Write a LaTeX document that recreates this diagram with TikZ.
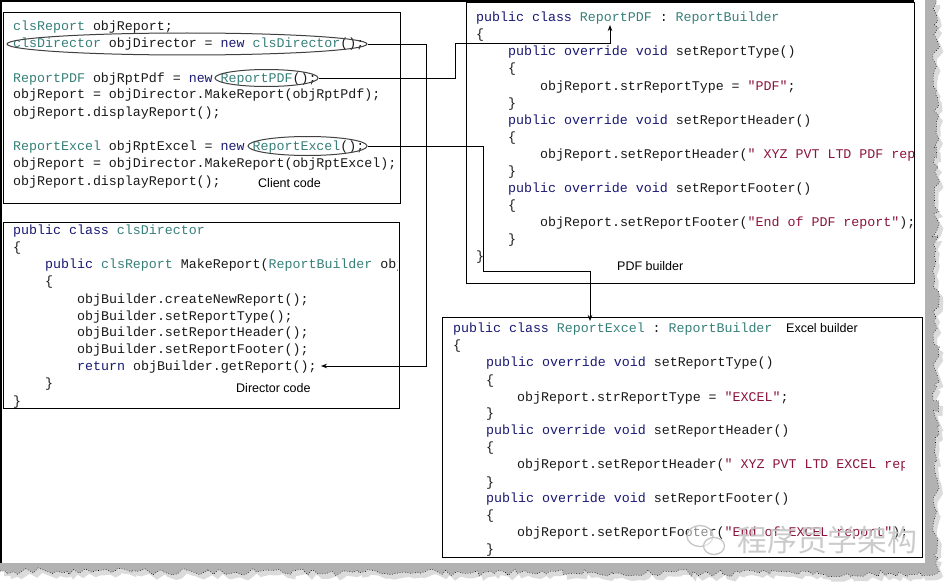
\documentclass[tikz,border=0pt]{standalone}
\usepackage{fontspec}
\setmainfont{Liberation Sans}
\setmonofont{Liberation Mono}
\newfontfamily\cjk{Noto Sans CJK SC}
\usetikzlibrary{shapes.geometric,arrows.meta,decorations.pathmorphing}
\definecolor{kwc}{RGB}{25,25,115}
\definecolor{tyc}{RGB}{55,128,122}
\definecolor{stc}{RGB}{140,20,60}
\definecolor{txc}{RGB}{25,25,25}
\newcommand\ckw[1]{\textcolor{kwc}{#1}}
\newcommand\cty[1]{\textcolor{tyc}{#1}}
\newcommand\cstr[1]{\textcolor{stc}{#1}}
\newcommand\cl[4]{\node[code] (#1) at (#2,#3+4) {#4};}
\tikzset{
  codebox/.style={draw=black, line width=1.1pt},
  code/.style={anchor=base west, inner sep=0pt, text=txc, font=\ttfamily\fontsize{13.3}{15}\selectfont},
  lbl/.style={anchor=base west, inner sep=0pt, text=black, font=\fontsize{12.5}{14}\selectfont},
  conn/.style={draw=black, line width=0.9pt},
  arr/.style={conn, -{Stealth[length=6pt,width=4.5pt]}},
  oval/.style={ellipse, draw=black!75, line width=1pt, inner sep=0pt},
  torn/.style={decoration={random steps,segment length=5pt,amplitude=3.5pt}}
}
\begin{document}
\begin{tikzpicture}[x=1pt,y=-1pt]
\useasboundingbox (0,0) rectangle (950,586);
\fill[white] (0,0) rectangle (950,586);

% torn edge shadow and band
\pgfmathsetseed{5}
\fill[gray!28, shift={(4,5)}] (925,0) -- (925,563) -- (0,563) -- (0,571) decorate[torn]{ -- (936,574) -- (936,0)} -- cycle;
\pgfmathsetseed{5}
\fill[gray!60] (925,0) -- (925,563) -- (0,563) -- (0,571) decorate[torn]{ -- (936,574) -- (936,0)} -- cycle;
\pgfmathsetseed{5}
\draw[black, line width=0.6pt, dotted] (0,571) decorate[torn]{ -- (936,574) -- (936,0)};

% page frame
\draw[black, line width=1.2pt] (1,563) -- (1,1) -- (914,1);

% boxes
\node[codebox, rectangle, minimum width=397, minimum height=191, anchor=north west, inner sep=0pt] (client) at (3,12) {};
\node[codebox, rectangle, minimum width=396, minimum height=186, anchor=north west, inner sep=0pt] (director) at (3,222) {};
\node[codebox, rectangle, minimum width=448, minimum height=281, anchor=north west, inner sep=0pt] (pdf) at (466,2) {};
\node[codebox, rectangle, minimum width=480, minimum height=240, anchor=north west, inner sep=0pt] (excel) at (442,317) {};

% client code
\begin{scope}
\clip (3,12) rectangle (400,203);
\cl{a1}{13}{27}{\cty{clsReport} objReport;}
\cl{a2}{13}{44}{\cty{clsDirector} objDirector = \ckw{new} \cty{clsDirector}();}
\cl{a3}{13}{78}{\cty{ReportPDF} objRptPdf = \ckw{new} \cty{ReportPDF}();}
\cl{a4}{13}{95}{objReport = objDirector.MakeReport(objRptPdf);}
\cl{a5}{13}{112}{objReport.displayReport();}
\cl{a6}{13}{146}{\cty{ReportExcel} objRptExcel = \ckw{new} \cty{ReportExcel}();}
\cl{a7}{13}{163}{objReport = objDirector.MakeReport(objRptExcel);}
\cl{a8}{13}{181}{objReport.displayReport();}
\end{scope}
\node[lbl] (clientlbl) at (258,187.5) {Client code};

% director code
\begin{scope}
\clip (3,222) rectangle (397,408);
\cl{d1}{13}{230}{\ckw{public class} \cty{clsDirector}}
\cl{d2}{13}{247}{\{}
\cl{d3}{45}{264}{\ckw{public} \cty{clsReport} MakeReport(\cty{ReportBuilder} objBuilder)}
\cl{d4}{45}{281}{\{}
\cl{d5}{77}{299}{objBuilder.createNewReport();}
\cl{d6}{77}{316}{objBuilder.setReportType();}
\cl{d7}{77}{332}{objBuilder.setReportHeader();}
\cl{d8}{77}{349}{objBuilder.setReportFooter();}
\cl{d9}{77}{366}{\ckw{return} objBuilder.getReport();}
\cl{d10}{45}{383}{\}}
\cl{d11}{13}{401}{\}}
\end{scope}
\node[lbl] (directorlbl) at (236,392.5) {Director code};

% PDF builder
\begin{scope}
\clip (466,2) rectangle (914,283);
\cl{p1}{476}{18}{\ckw{public class} \cty{ReportPDF} : \cty{ReportBuilder}}
\cl{p2}{476}{35}{\{}
\cl{p3}{508}{52}{\ckw{public override void} setReportType()}
\cl{p4}{508}{69}{\{}
\cl{p5}{540}{86}{objReport.strReportType = \cstr{"PDF"};}
\cl{p6}{508}{103}{\}}
\cl{p7}{508}{120}{\ckw{public override void} setReportHeader()}
\cl{p8}{508}{137}{\{}
\cl{p9}{540}{154}{objReport.setReportHeader(\cstr{" XYZ PVT LTD PDF report"});}
\cl{p10}{508}{171}{\}}
\cl{p11}{508}{188}{\ckw{public override void} setReportFooter()}
\cl{p12}{508}{205}{\{}
\cl{p13}{540}{222}{objReport.setReportFooter(\cstr{"End of PDF report"});}
\cl{p14}{508}{239}{\}}
\cl{p15}{476}{256}{\}}
\end{scope}
\node[lbl] (pdflbl) at (617,270.5) {PDF builder};

% Excel builder
\begin{scope}
\clip (442,317) rectangle (904,557);
\cl{x1}{453}{328}{\ckw{public class} \cty{ReportExcel} : \cty{ReportBuilder}}
\cl{x2}{453}{345}{\{}
\cl{x3}{486}{362}{\ckw{public override void} setReportType()}
\cl{x4}{486}{380}{\{}
\cl{x5}{517}{397}{objReport.strReportType = \cstr{"EXCEL"};}
\cl{x6}{486}{413}{\}}
\cl{x7}{486}{430}{\ckw{public override void} setReportHeader()}
\cl{x8}{486}{447}{\{}
\cl{x9}{517}{464}{objReport.setReportHeader(\cstr{" XYZ PVT LTD EXCEL report"});}
\cl{x10}{486}{482}{\}}
\cl{x11}{486}{498}{\ckw{public override void} setReportFooter()}
\cl{x12}{486}{515}{\{}
\cl{x13}{517}{532}{objReport.setReportFooter(\cstr{"End of EXCEL report"});}
\cl{x14}{486}{549}{\}}
\end{scope}
\node[lbl] (excellbl) at (786,332.5) {Excel builder};

% ovals
\node[oval, minimum width=360, minimum height=22] (e1) at (187,44) {};
\node[oval, minimum width=103, minimum height=17] (e2) at (266.5,78) {};
\node[oval, minimum width=119, minimum height=19] (e3) at (307.5,146) {};

% connectors
\coordinate (c1) at (426,366);
\coordinate (t1) at (321,366);
\coordinate (c2) at (455,43);
\coordinate (t2) at (610,25);
\coordinate (c3) at (483,271);
\coordinate (t3) at (590,321);
\draw[arr] (e1.east) -| (c1) -- (t1);
\draw[arr] (e2.east) -| (c2) -| (t2);
\draw[arr] (e3.east) -| (c3) -| (t3);

% watermark
\node[ellipse, draw=gray!45, line width=1.3pt, minimum width=26, minimum height=21, fill=white, fill opacity=0.5] (wc1) at (700,536) {};
\node[ellipse, draw=gray!45, line width=1.3pt, minimum width=21, minimum height=17, fill=white, fill opacity=0.5] (wc2) at (714,546) {};
\node[anchor=west, inner sep=0pt, text=gray!45, text opacity=0.9, font=\cjk\fontsize{30}{32}\selectfont] (wm) at (737,540) {程序员学架构};
\end{tikzpicture}
\end{document}
